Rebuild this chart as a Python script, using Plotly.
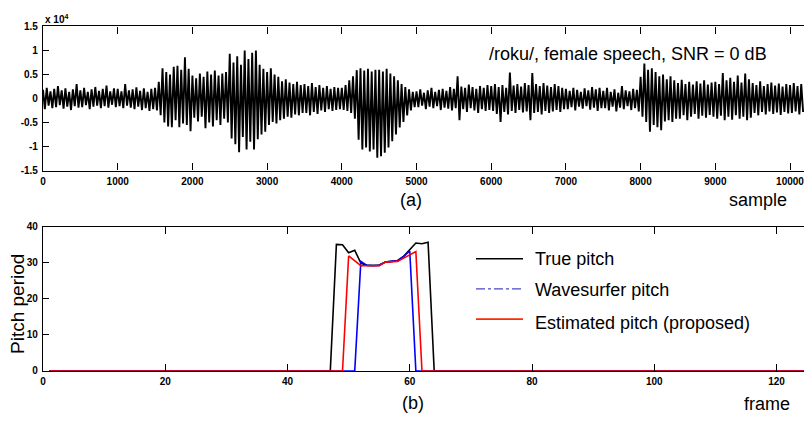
import plotly.graph_objects as go

# (a) waveform envelope, x 10^4, one max/min pair per 50-sample bin
bin_size = 50
wave_upper = [
    0.18, 0.22, 0.15, 0.20, 0.26, 0.17, 0.21, 0.14, 0.19, 0.30,
    0.17, 0.22, 0.14, 0.19, 0.24, 0.16, 0.20, 0.27, 0.15, 0.21,
    0.20, 0.15, 0.30, 0.17, 0.19, 0.23, 0.16, 0.21, 0.14, 0.20,
    0.22, 0.35, 0.63, 0.55, 0.50, 0.66, 0.68, 0.60, 0.86, 0.62,
    0.48, 0.42, 0.52, 0.45, 0.56, 0.50, 0.58, 0.48, 0.52, 0.55,
    0.93, 0.75, 0.88, 0.70, 1.00, 0.82, 0.95, 1.00, 0.70, 0.62,
    0.55, 0.63, 0.50, 0.45, 0.36, 0.40, 0.33, 0.30, 0.35, 0.28,
    0.30, 0.26, 0.32, 0.24, 0.28, 0.22, 0.26, 0.20, 0.24, 0.22,
    0.22, 0.28, 0.38, 0.46, 0.59, 0.63, 0.58, 0.62, 0.56, 0.60,
    0.60, 0.56, 0.62, 0.52, 0.46, 0.38, 0.30, 0.24, 0.19, 0.14,
    0.15, 0.19, 0.12, 0.17, 0.22, 0.14, 0.18, 0.20, 0.16, 0.24,
    0.20, 0.46, 0.25, 0.22, 0.29, 0.24, 0.20, 0.26, 0.22, 0.28,
    0.26, 0.30, 0.24, 0.28, 0.22, 0.54, 0.27, 0.30, 0.25, 0.32,
    0.28, 0.53, 0.30, 0.26, 0.32, 0.27, 0.24, 0.30, 0.26, 0.22,
    0.20, 0.16, 0.22, 0.18, 0.14, 0.21, 0.17, 0.24, 0.19, 0.22,
    0.16, 0.22, 0.14, 0.19, 0.12, 0.26, 0.17, 0.15, 0.20, 0.18,
    0.45, 0.73, 0.60, 0.63, 0.55, 0.46, 0.50, 0.40, 0.46, 0.38,
    0.32, 0.39, 0.30, 0.35, 0.29, 0.36, 0.31, 0.38, 0.29, 0.33,
    0.35, 0.30, 0.53, 0.38, 0.43, 0.35, 0.48, 0.33, 0.52, 0.40,
    0.32, 0.28, 0.36, 0.26, 0.30, 0.33, 0.27, 0.31, 0.25, 0.30,
    0.28, 0.32, 0.26, 0.30,
]
wave_lower = [
    -0.22, -0.15, -0.20, -0.18, -0.14, -0.21, -0.17, -0.24, -0.16, -0.19,
    -0.18, -0.14, -0.22, -0.17, -0.15, -0.20, -0.16, -0.19, -0.13, -0.18,
    -0.16, -0.20, -0.15, -0.19, -0.22, -0.17, -0.24, -0.20, -0.26, -0.22,
    -0.25, -0.35, -0.50, -0.58, -0.60, -0.45, -0.60, -0.52, -0.55, -0.68,
    -0.40, -0.48, -0.38, -0.62, -0.50, -0.58, -0.45, -0.55, -0.42, -0.50,
    -0.83, -0.95, -1.12, -0.80, -1.06, -0.90, -1.06, -0.85, -0.75, -0.69,
    -0.55, -0.49, -0.52, -0.45, -0.42, -0.38, -0.40, -0.33, -0.35, -0.30,
    -0.30, -0.35, -0.28, -0.32, -0.25, -0.28, -0.22, -0.26, -0.24, -0.22,
    -0.24, -0.26, -0.30, -0.42, -0.86, -1.06, -1.02, -1.10, -1.06, -1.23,
    -1.20, -1.13, -1.02, -0.89, -0.75, -0.60, -0.49, -0.35, -0.25, -0.18,
    -0.18, -0.15, -0.22, -0.17, -0.20, -0.16, -0.24, -0.19, -0.21, -0.25,
    -0.20, -0.45, -0.22, -0.28, -0.20, -0.25, -0.30, -0.22, -0.26, -0.24,
    -0.26, -0.32, -0.49, -0.28, -0.33, -0.26, -0.30, -0.24, -0.29, -0.27,
    -0.45, -0.30, -0.28, -0.33, -0.26, -0.30, -0.27, -0.24, -0.28, -0.22,
    -0.22, -0.18, -0.25, -0.17, -0.21, -0.16, -0.23, -0.19, -0.26, -0.20,
    -0.20, -0.25, -0.17, -0.27, -0.19, -0.22, -0.16, -0.24, -0.20, -0.27,
    -0.38, -0.49, -0.69, -0.55, -0.60, -0.66, -0.48, -0.45, -0.49, -0.42,
    -0.42, -0.35, -0.45, -0.38, -0.32, -0.42, -0.36, -0.40, -0.34, -0.38,
    -0.42, -0.36, -0.45, -0.38, -0.44, -0.35, -0.42, -0.38, -0.45, -0.40,
    -0.30, -0.35, -0.28, -0.33, -0.27, -0.32, -0.29, -0.34, -0.28, -0.31,
    -0.30, -0.27, -0.33, -0.28,
]

# (b) pitch period per frame
frames = list(range(1, 126))
true_pitch = [0.0] * 47 + [35.1, 35.0, 32.8, 33.5, 29.9, 29.3, 29.3, 29.4,
                           30.2, 30.4, 30.6, 31.8, 33.6, 35.5, 35.3, 35.7] + [0.0] * 62
wavesurfer_pitch = [0.0] * 51 + [30.4, 29.3, 29.2, 29.3, 30.2, 30.3, 30.6,
                                 31.8, 33.3] + [0.0] * 65
estimated_pitch = [0.0] * 49 + [31.9, 30.6, 29.2, 29.2, 29.2, 29.2, 30.2,
                                30.3, 30.4, 31.3, 32.2, 33.1] + [0.0] * 64

legend_names = ["True pitch", "Wavesurfer pitch", "Estimated pitch (proposed)"]

# zig-zag max/min per bin so the trace looks like a dense waveform
wx, wy = [], []
for i, (u, l) in enumerate(zip(wave_upper, wave_lower)):
    wx += [i * bin_size, i * bin_size + bin_size / 2]
    wy += [u, l]

FONT = "Liberation Sans, Arial, Helvetica, sans-serif"
W, H = 804, 423
ML = 43  # left margin in px

fig = go.Figure()
fig.add_trace(go.Scatter(x=wx, y=wy, mode="lines",
                         line=dict(color="black", width=1.9, simplify=False),
                         xaxis="x", yaxis="y", showlegend=False))
fig.add_trace(go.Scatter(x=frames, y=true_pitch, mode="lines", line=dict(color="black", width=1.6),
                         xaxis="x2", yaxis="y2", showlegend=False))
fig.add_trace(go.Scatter(x=frames, y=wavesurfer_pitch, mode="lines", line=dict(color="#0000ff", width=1.6),
                         xaxis="x2", yaxis="y2", showlegend=False))
fig.add_trace(go.Scatter(x=frames, y=estimated_pitch, mode="lines", line=dict(color="#ff0000", width=1.6),
                         xaxis="x2", yaxis="y2", showlegend=False))

tickfont = dict(family=FONT, size=10, color="black", weight="bold")
common_x = dict(showline=True, linecolor="black", linewidth=1.2, mirror="ticks",
                ticks="inside", ticklen=7, tickcolor="black", showgrid=False,
                zeroline=False, tickfont=tickfont, ticklabelstandoff=1,
                ticklabeloverflow="allow")
common_y = dict(showline=True, linecolor="black", linewidth=1.2, mirror=False,
                ticks="inside", ticklen=6, tickcolor="black", showgrid=False,
                zeroline=False, tickfont=tickfont, ticklabelstandoff=2)

ytop_vals = [-1.5, -1, -0.5, 0, 0.5, 1, 1.5]
ytop_text = ["-1.5", "-1", "-0.5", "0", "0.5", "1", "1.5"]

fig.update_layout(
    width=W, height=H,
    margin=dict(l=ML, r=0, t=0, b=0),
    paper_bgcolor="white", plot_bgcolor="white",
    font=dict(family=FONT, color="black"),
    xaxis=dict(common_x, domain=[0, 1], range=[0, 10187], anchor="y",
               tickvals=list(range(0, 10001, 1000)), tickformat="d"),
    yaxis=dict(common_y, domain=[1 - 170 / H, 1 - 22 / H], range=[-1.5, 1.5], anchor="x",
               tickvals=ytop_vals, ticktext=ytop_text),
    xaxis2=dict(common_x, domain=[0, 1], range=[0, 124.5], anchor="y2",
                tickvals=list(range(0, 121, 20))),
    yaxis2=dict(common_y, domain=[1 - 375.7 / H, 1 - 227.7 / H], range=[0, 40], anchor="x2",
                tickvals=[0, 10, 20, 30, 40]),
    showlegend=False,
)


def px(x, y):
    # pixel position -> paper coords (paper x starts at the left margin)
    return (x - ML) / (W - ML), 1 - y / H


annots = [
    ("x 10<sup>4</sup>", 43, 14, 10, "left", True),
    ("/roku/, female speech, SNR = 0 dB", 487, 50, 18, "left", False),
    ("(a)", 411, 200, 18, "center", False),
    ("sample", 758, 200, 18, "center", False),
    ("(b)", 413, 409, 18, "center", False),
    ("frame", 767, 410, 18, "center", False),
]
for text, x, y, size, anchor, bold in annots:
    ax, ay = px(x, y)
    fig.add_annotation(text=text, x=ax, y=ay, xref="paper", yref="paper",
                       xanchor=anchor, yanchor="middle", showarrow=False,
                       font=dict(family=FONT, size=size, color="black",
                                 weight="bold" if bold else "normal"))

ax, ay = px(17, 307)
fig.add_annotation(text="Pitch period", x=ax, y=ay, xref="paper", yref="paper",
                   textangle=-90, showarrow=False, xanchor="center", yanchor="middle",
                   font=dict(family=FONT, size=19, color="black"))

# hand-drawn legend
legend_styles = [
    dict(color="black", width=1.6, dash="solid"),
    dict(color="#4848c8", width=1.2, dash="dashdot"),
    dict(color="#ff2a00", width=1.6, dash="solid"),
]
legend_rows = [(260.5, 260.5), (291.5, 293), (322.5, 326.5)]
for name, style, (ly, ty) in zip(legend_names, legend_styles, legend_rows):
    x0, y0 = px(476, ly)
    x1, _ = px(523, ly)
    fig.add_shape(type="line", xref="paper", yref="paper", x0=x0, x1=x1, y0=y0, y1=y0,
                  line=style)
    tx, tyy = px(533, ty)
    fig.add_annotation(text=name, x=tx, y=tyy, xref="paper", yref="paper",
                       xanchor="left", yanchor="middle", showarrow=False,
                       font=dict(family=FONT, size=18, color="black"))

fig.write_html("out.html", config={"displayModeBar": False},
               post_script="document.body.style.margin='0';")
